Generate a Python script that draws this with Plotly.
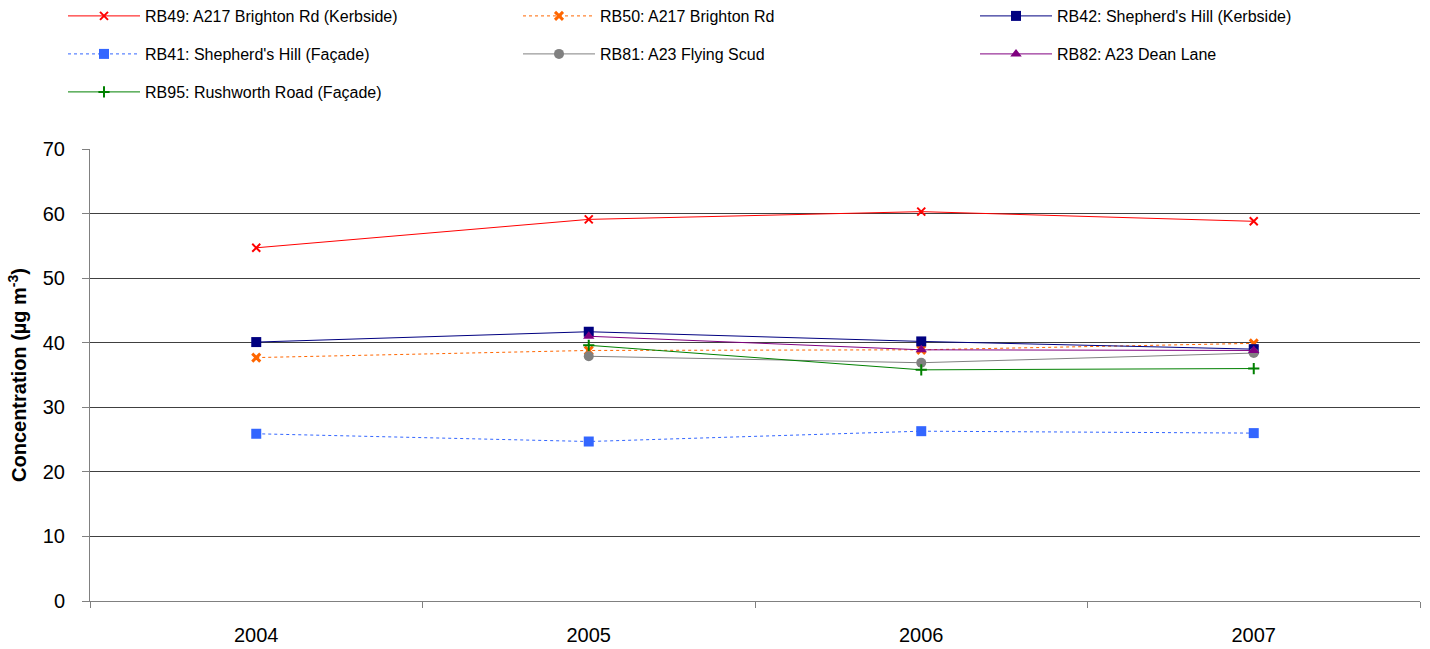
import plotly.graph_objects as go

years = ["2004", "2005", "2006", "2007"]

rb49 = [54.7, 59.1, 60.3, 58.8]
rb50 = [37.7, 38.8, 38.9, 39.9]
rb42 = [40.1, 41.7, 40.2, 39.0]
rb41 = [25.9, 24.7, 26.3, 26.0]
rb81 = [None, 37.9, 36.9, 38.4]
rb82 = [None, 41.0, 38.9, 38.8]
rb95 = [None, 39.6, 35.8, 36.0]

FONT = "Liberation Sans, Arial, sans-serif"
W, HT = 1430, 649

series = [
    dict(name="RB49: A217 Brighton Rd (Kerbside)", y=rb49, color="#FF0000", dash="solid",
         symbol="x-thin", size=8, mline=2),
    dict(name="RB50: A217 Brighton Rd", y=rb50, color="#FF6600", dash="dot",
         symbol="x-thin", size=8, mline=3),
    dict(name="RB42: Shepherd's Hill (Kerbside)", y=rb42, color="#000080", dash="solid",
         symbol="square", size=10, mline=0),
    dict(name="RB41: Shepherd's Hill (Façade)", y=rb41, color="#3366FF", dash="dot",
         symbol="square", size=10, mline=0),
    dict(name="RB81: A23 Flying Scud", y=rb81, color="#808080", dash="solid",
         symbol="circle", size=10, mline=0),
    dict(name="RB82: A23 Dean Lane", y=rb82, color="#800080", dash="solid",
         symbol="triangle-up", size=10, mline=0),
    dict(name="RB95: Rushworth Road (Façade)", y=rb95, color="#008000", dash="solid",
         symbol="cross-thin", size=8, mline=2),
]

# legend grid: three columns, three rows (pixel positions in the page)
col_x = [63, 518, 975]
row_y = [16, 54, 92]

fig = go.Figure()
layout_legends = {}
for i, s in enumerate(series):
    key = "legend" if i == 0 else f"legend{i + 1}"
    fig.add_trace(go.Scatter(
        x=years, y=s["y"], name=s["name"], mode="lines+markers",
        line=dict(color=s["color"], width=1, dash=s["dash"]),
        marker=dict(symbol=s["symbol"], size=s["size"], color=s["color"],
                    line=dict(color=s["color"], width=s["mline"])),
        legend=key, showlegend=True,
    ))
    layout_legends[key] = dict(
        orientation="h", itemwidth=72, xref="container", yref="container",
        x=col_x[i % 3] / W, y=1 - row_y[i // 3] / HT, xanchor="left", yanchor="middle",
        font=dict(family=FONT, size=16, color="#000"),
        bgcolor="rgba(0,0,0,0)", itemclick=False, visible=True,
    )

fig.update_layout(
    width=W, height=HT, showlegend=True,
    margin=dict(l=90, r=10, t=149, b=48),
    plot_bgcolor="white", paper_bgcolor="white",
    font=dict(family=FONT, size=20, color="#000"),
    xaxis=dict(
        type="category", range=[-0.5, 3.5], tickson="boundaries",
        ticks="outside", ticklen=6, tickcolor="#808080",
        showline=True, linecolor="#808080", linewidth=1,
        showgrid=False, ticklabelstandoff=16, automargin=False,
        tickfont=dict(family=FONT, size=20, color="#000"),
    ),
    yaxis=dict(
        range=[0, 70], dtick=10, ticks="outside", ticklen=7, tickcolor="#808080",
        showline=True, linecolor="#808080", linewidth=1,
        showgrid=True, gridcolor="#404040", gridwidth=1, zeroline=False,
        ticklabelstandoff=13, automargin=False,
        tickfont=dict(family=FONT, size=20, color="#000"),
        title=dict(text="<b>Concentration (µg m<sup>-3</sup>)</b>",
                   font=dict(family=FONT, size=20, color="#000"), standoff=10),
    ),
    **layout_legends,
)

fig.write_html("out.html")
